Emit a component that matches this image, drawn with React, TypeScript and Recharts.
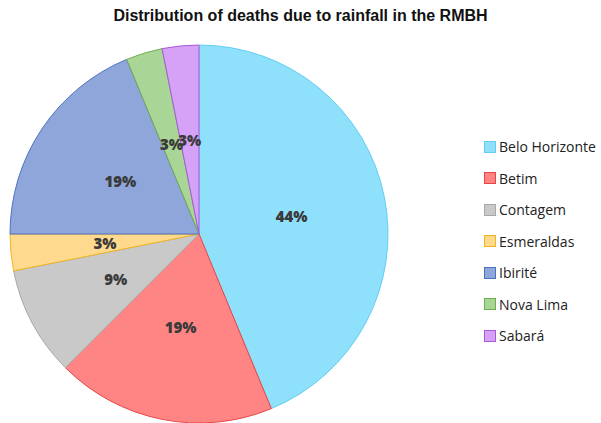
import { Cell, Legend, Pie, PieChart } from "recharts";

const CITIES = ["Belo Horizonte", "Betim", "Contagem", "Esmeraldas", "Ibirité", "Nova Lima", "Sabará"];
const DEATHS = [14, 6, 3, 1, 6, 1, 1];
const FILLS = ["#8fe0fb", "#ff8585", "#c9c9c9", "#ffd98e", "#8fa6da", "#a9d596", "#d6a2f7"];
const STROKES = ["#62cdf2", "#e84545", "#a8a8a8", "#f2b51c", "#4d72c1", "#6fae4f", "#a55ad8"];

const rows = CITIES.map((name, i) => ({ name, value: DEATHS[i] }));
const RAD = Math.PI / 180;

function renderLabel(props: any) {
  const { cx, cy, midAngle, outerRadius, percent } = props;
  const r = outerRadius * 0.5;
  const x = cx + r * Math.cos(-midAngle * RAD);
  const y = cy + r * Math.sin(-midAngle * RAD);
  return (
    <text
      x={x}
      y={y}
      textAnchor="middle"
      dominantBaseline="central"
      fill="#3a3a3a"
      fontFamily="'Open Sans', sans-serif"
      fontWeight={800}
      fontSize={15}
    >
      {`${Math.round(percent * 100)}%`}
    </text>
  );
}

function LegendBox() {
  return (
    <div style={{ fontFamily: "'Open Sans', sans-serif", fontSize: 14, color: "#222" }}>
      {CITIES.map((c, i) => (
        <div key={c} style={{ display: "flex", alignItems: "center", height: 31.5 }}>
          <span
            style={{
              display: "inline-block",
              width: 10,
              height: 10,
              background: FILLS[i],
              border: `1px solid ${STROKES[i]}`,
              marginRight: 3,
            }}
          />
          {c}
        </div>
      ))}
    </div>
  );
}

export default function App() {
  return (
    <div style={{ position: "absolute", left: 0, top: 0, width: 601, height: 423, background: "#fff" }}>
      <div
        style={{
          position: "absolute",
          top: 7,
          left: 0,
          width: 601,
          textAlign: "center",
          fontFamily: "'Liberation Sans', Arial, sans-serif",
          fontWeight: 700,
          fontSize: 16,
          color: "#111",
        }}
      >
        Distribution of deaths due to rainfall in the RMBH
      </div>
      <PieChart width={601} height={423} margin={{ top: 0, right: 0, bottom: 0, left: 0 }}>
        <Pie
          data={rows}
          dataKey="value"
          nameKey="name"
          cx={199}
          cy={234}
          outerRadius={189}
          startAngle={90}
          endAngle={-270}
          label={renderLabel}
          labelLine={false}
          isAnimationActive={false}
        >
          {rows.map((r, i) => (
            <Cell key={r.name} fill={FILLS[i]} stroke={STROKES[i]} strokeWidth={1} />
          ))}
        </Pie>
        <Legend
          layout="vertical"
          align="right"
          verticalAlign="top"
          wrapperStyle={{ left: 484, top: 131, width: 117 }}
          content={() => <LegendBox />}
        />
      </PieChart>
    </div>
  );
}
